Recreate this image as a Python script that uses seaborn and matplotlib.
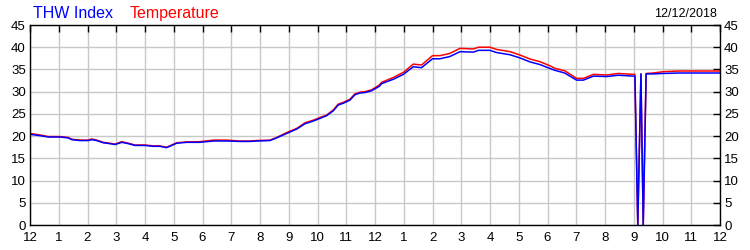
import matplotlib
matplotlib.use("Agg")
import matplotlib.pyplot as plt
import seaborn as sns
import pandas as pd

hours = [0.0, 0.35, 0.64, 1.04, 1.33, 1.45, 1.74, 2.03, 2.14, 2.32, 2.55, 2.78, 2.96,
         3.19, 3.42, 3.65, 4.0, 4.29, 4.52, 4.75, 4.93, 5.1, 5.45, 5.91, 6.38, 6.84,
         7.3, 7.65, 7.88, 8.35, 8.58, 8.93, 9.28, 9.57, 9.86, 10.09, 10.32, 10.55,
         10.72, 10.9, 11.13, 11.3, 11.48, 11.65, 11.88, 12.15, 12.23, 12.64, 12.99,
         13.33, 13.62, 14.0, 14.26, 14.6, 14.96, 15.42, 15.6, 16.0, 16.23, 16.7,
         17.04, 17.39, 17.74, 18.09, 18.26, 18.6, 19.01, 19.25, 19.6, 20.06, 20.46,
         20.98, 21.04, 21.14, 21.25, 21.33, 21.43, 21.68, 22.03, 22.6, 24.0]

temperature = [20.6, 20.25, 19.9, 19.9, 19.7, 19.3, 19.1, 19.1, 19.35, 19.1, 18.6, 18.4, 18.2,
               18.75, 18.4, 18.0, 18.0, 17.8, 17.8, 17.5, 18.0, 18.5, 18.7, 18.75, 19.1, 19.1,
               18.9, 18.9, 19.0, 19.1, 19.7, 20.8, 21.75, 23.0, 23.6, 24.2, 24.75, 25.9,
               27.2, 27.6, 28.3, 29.5, 29.9, 30.0, 30.4, 31.5, 32.1, 33.2, 34.35,
               36.2, 36.0, 38.1, 38.1, 38.6, 39.75, 39.6, 40.0, 40.0, 39.5, 39.0,
               38.25, 37.35, 36.75, 35.8, 35.25, 34.7, 33.0, 33.0, 33.9, 33.75, 34.1,
               33.9, 33.9, 0.0, 34.0, 0.0, 34.1, 34.2, 34.5, 34.65, 34.65]

thw_index = [20.4, 20.1, 19.8, 19.8, 19.6, 19.2, 19.0, 19.0, 19.2, 19.0, 18.5, 18.3, 18.1,
             18.6, 18.3, 17.9, 17.9, 17.7, 17.7, 17.4, 17.9, 18.4, 18.6, 18.6, 18.9, 18.9,
             18.8, 18.8, 18.9, 19.0, 19.6, 20.6, 21.6, 22.8, 23.4, 24.0, 24.6, 25.7,
             27.0, 27.4, 28.1, 29.3, 29.7, 29.8, 30.2, 31.2, 31.8, 32.8, 33.9,
             35.6, 35.4, 37.4, 37.4, 37.9, 39.0, 38.9, 39.3, 39.3, 38.8, 38.3,
             37.6, 36.7, 36.1, 35.2, 34.8, 34.2, 32.6, 32.6, 33.5, 33.4, 33.7,
             33.5, 33.5, 0.0, 34.0, 0.0, 34.0, 34.0, 34.1, 34.2, 34.2]

x_tick_labels = ["12", "1", "2", "3", "4", "5", "6", "7", "8", "9", "10", "11",
                 "12", "1", "2", "3", "4", "5", "6", "7", "8", "9", "10", "11", "12"]
y_ticks = [0, 5, 10, 15, 20, 25, 30, 35, 40, 45]
date_label = "12/12/2018"

df = pd.DataFrame({
    "hour": hours * 2,
    "value": temperature + thw_index,
    "series": ["Temperature"] * len(hours) + ["THW Index"] * len(hours),
})

sns.set_style("white")
plt.rcParams["font.family"] = ["Liberation Sans", "DejaVu Sans"]

fig = plt.figure(figsize=(7.5, 2.5), dpi=100)
ax = fig.add_axes([30 / 750, 25 / 250, 690 / 750, 200 / 250])

sns.lineplot(data=df, x="hour", y="value", hue="series",
             hue_order=["Temperature", "THW Index"],
             palette={"Temperature": "#ff0000", "THW Index": "#0000ff"},
             estimator=None, sort=False, linewidth=1.1, legend=False, ax=ax)

ax.set_xlim(0, 24)
ax.set_ylim(0, 45)
ax.set_xticks(range(25))
ax.set_xticklabels(x_tick_labels)
ax.set_yticks(y_ticks)
ax.set_xlabel("")
ax.set_ylabel("")
ax.grid(True, color="#c8c8c8", linewidth=1)
ax.set_axisbelow(True)
for s in ax.spines.values():
    s.set_color("black")
    s.set_linewidth(1)
ax.tick_params(axis="both", which="both", direction="in", length=5, width=1,
               colors="black", labelsize=9.5, top=True, right=True,
               labelright=True, pad=3)
ax.tick_params(axis="x", pad=5)

fig.text(33 / 750, 1 - 17.5 / 250, "THW Index", color="#0000ff", fontsize=11.5,
         ha="left", va="baseline")
fig.text(130 / 750, 1 - 17.5 / 250, "Temperature", color="#ff0000", fontsize=11.5,
         ha="left", va="baseline")
fig.text(717 / 750, 1 - 17 / 250, date_label, color="black", fontsize=9,
         ha="right", va="baseline")

fig.savefig("out.png", dpi=100)
